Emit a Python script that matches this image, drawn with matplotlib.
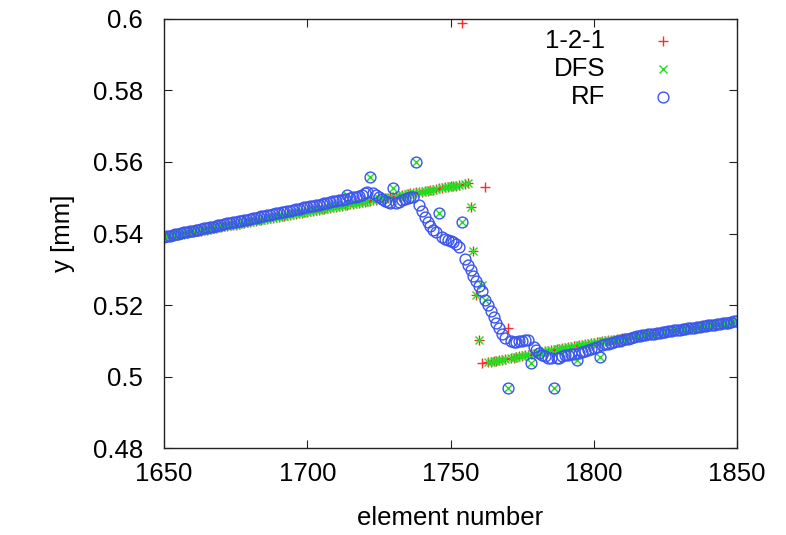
import numpy as np
import matplotlib
matplotlib.use("Agg")
import matplotlib.pyplot as plt
from matplotlib.ticker import FormatStrFormatter

plt.rcParams['font.family'] = ['Liberation Sans', 'DejaVu Sans']

# element numbers 1650 .. 1850
elements = np.arange(1650, 1851)

# 1-2-1 values
y_121 = [
    0.5390, 0.5391, 0.5393, 0.5394, 0.5396, 0.5397, 0.5398, 0.5400, 0.5401, 0.5403,  # 1650
    0.5404, 0.5406, 0.5407, 0.5408, 0.5410, 0.5411, 0.5413, 0.5414, 0.5415, 0.5417,  # 1660
    0.5418, 0.5420, 0.5421, 0.5423, 0.5424, 0.5425, 0.5427, 0.5428, 0.5430, 0.5431,  # 1670
    0.5432, 0.5434, 0.5435, 0.5437, 0.5438, 0.5440, 0.5441, 0.5442, 0.5444, 0.5445,  # 1680
    0.5447, 0.5448, 0.5449, 0.5451, 0.5452, 0.5454, 0.5455, 0.5457, 0.5458, 0.5459,  # 1690
    0.5461, 0.5462, 0.5464, 0.5465, 0.5466, 0.5468, 0.5469, 0.5471, 0.5472, 0.5473,  # 1700
    0.5475, 0.5476, 0.5478, 0.5479, 0.5481, 0.5482, 0.5483, 0.5485, 0.5486, 0.5488,  # 1710
    0.5489, 0.5490, 0.5492, 0.5493, 0.5495, 0.5496, 0.5498, 0.5499, 0.5500, 0.5502,  # 1720
    0.5503, 0.5505, 0.5506, 0.5507, 0.5509, 0.5510, 0.5512, 0.5513, 0.5515, 0.5516,  # 1730
    0.5517, 0.5519, 0.5520, 0.5522, 0.5523, 0.5524, 0.5526, 0.5527, 0.5529, 0.5530,  # 1740
    0.5532, 0.5533, 0.5534, 0.5536, 0.5990, 0.5539, 0.5540, 0.5475, 0.5351, 0.5228,  # 1750
    0.5102, 0.5037, 0.5529, 0.5040, 0.5041, 0.5043, 0.5044, 0.5046, 0.5047, 0.5049,  # 1760
    0.5135, 0.5052, 0.5053, 0.5055, 0.5056, 0.5058, 0.5059, 0.5061, 0.5062, 0.5064,  # 1770
    0.5065, 0.5067, 0.5068, 0.5070, 0.5071, 0.5073, 0.5074, 0.5076, 0.5077, 0.5079,  # 1780
    0.5080, 0.5082, 0.5083, 0.5085, 0.5086, 0.5088, 0.5089, 0.5091, 0.5092, 0.5094,  # 1790
    0.5095, 0.5096, 0.5097, 0.5099, 0.5100, 0.5101, 0.5102, 0.5103, 0.5105, 0.5106,  # 1800
    0.5107, 0.5108, 0.5109, 0.5111, 0.5112, 0.5113, 0.5114, 0.5115, 0.5117, 0.5118,  # 1810
    0.5119, 0.5120, 0.5121, 0.5123, 0.5124, 0.5125, 0.5126, 0.5127, 0.5129, 0.5130,  # 1820
    0.5131, 0.5132, 0.5133, 0.5135, 0.5136, 0.5137, 0.5138, 0.5139, 0.5141, 0.5142,  # 1830
    0.5143, 0.5144, 0.5145, 0.5147, 0.5148, 0.5149, 0.5150, 0.5151, 0.5153, 0.5154,  # 1840
    0.5155,
]

# DFS values
y_dfs = [
    0.5390, 0.5391, 0.5393, 0.5394, 0.5396, 0.5397, 0.5398, 0.5400, 0.5401, 0.5403,  # 1650
    0.5404, 0.5406, 0.5407, 0.5408, 0.5410, 0.5411, 0.5413, 0.5414, 0.5415, 0.5417,  # 1660
    0.5418, 0.5420, 0.5421, 0.5423, 0.5424, 0.5425, 0.5427, 0.5428, 0.5430, 0.5431,  # 1670
    0.5432, 0.5434, 0.5435, 0.5437, 0.5438, 0.5440, 0.5441, 0.5442, 0.5444, 0.5445,  # 1680
    0.5447, 0.5448, 0.5449, 0.5451, 0.5452, 0.5454, 0.5455, 0.5457, 0.5458, 0.5459,  # 1690
    0.5461, 0.5462, 0.5464, 0.5465, 0.5466, 0.5468, 0.5469, 0.5471, 0.5472, 0.5473,  # 1700
    0.5475, 0.5476, 0.5478, 0.5479, 0.5508, 0.5482, 0.5483, 0.5485, 0.5486, 0.5488,  # 1710
    0.5489, 0.5490, 0.5559, 0.5493, 0.5495, 0.5496, 0.5498, 0.5499, 0.5500, 0.5502,  # 1720
    0.5528, 0.5505, 0.5506, 0.5507, 0.5509, 0.5510, 0.5512, 0.5513, 0.5601, 0.5516,  # 1730
    0.5517, 0.5519, 0.5520, 0.5522, 0.5523, 0.5524, 0.5458, 0.5527, 0.5529, 0.5530,  # 1740
    0.5532, 0.5533, 0.5534, 0.5536, 0.5433, 0.5539, 0.5540, 0.5475, 0.5351, 0.5228,  # 1750
    0.5102, 0.5256, 0.5214, 0.5040, 0.5041, 0.5043, 0.5044, 0.5046, 0.5047, 0.5049,  # 1760
    0.4967, 0.5052, 0.5053, 0.5055, 0.5056, 0.5058, 0.5059, 0.5061, 0.5037, 0.5064,  # 1770
    0.5065, 0.5067, 0.5068, 0.5070, 0.5071, 0.5073, 0.4967, 0.5076, 0.5077, 0.5079,  # 1780
    0.5080, 0.5082, 0.5083, 0.5085, 0.5046, 0.5088, 0.5089, 0.5091, 0.5092, 0.5094,  # 1790
    0.5095, 0.5096, 0.5055, 0.5099, 0.5100, 0.5101, 0.5102, 0.5103, 0.5105, 0.5106,  # 1800
    0.5107, 0.5108, 0.5109, 0.5111, 0.5112, 0.5113, 0.5114, 0.5115, 0.5117, 0.5118,  # 1810
    0.5119, 0.5120, 0.5121, 0.5123, 0.5124, 0.5125, 0.5126, 0.5127, 0.5129, 0.5130,  # 1820
    0.5131, 0.5132, 0.5133, 0.5135, 0.5136, 0.5137, 0.5138, 0.5139, 0.5141, 0.5142,  # 1830
    0.5143, 0.5144, 0.5145, 0.5147, 0.5148, 0.5149, 0.5150, 0.5151, 0.5153, 0.5154,  # 1840
    0.5155,
]

# RF values
y_rf = [
    0.5391, 0.5393, 0.5394, 0.5396, 0.5398, 0.5399, 0.5401, 0.5403, 0.5404, 0.5406,  # 1650
    0.5408, 0.5409, 0.5411, 0.5413, 0.5414, 0.5416, 0.5418, 0.5419, 0.5421, 0.5423,  # 1660
    0.5424, 0.5426, 0.5428, 0.5429, 0.5431, 0.5433, 0.5434, 0.5436, 0.5438, 0.5439,  # 1670
    0.5441, 0.5443, 0.5444, 0.5446, 0.5448, 0.5449, 0.5451, 0.5453, 0.5454, 0.5456,  # 1680
    0.5458, 0.5459, 0.5461, 0.5463, 0.5464, 0.5466, 0.5468, 0.5469, 0.5471, 0.5473,  # 1690
    0.5474, 0.5476, 0.5478, 0.5479, 0.5481, 0.5483, 0.5484, 0.5486, 0.5488, 0.5490,  # 1700
    0.5491, 0.5493, 0.5495, 0.5496, 0.5508, 0.5500, 0.5502, 0.5503, 0.5506, 0.5509,  # 1710
    0.5512, 0.5515, 0.5559, 0.5512, 0.5508, 0.5502, 0.5496, 0.5491, 0.5487, 0.5484,  # 1720
    0.5528, 0.5484, 0.5488, 0.5493, 0.5497, 0.5500, 0.5502, 0.5503, 0.5601, 0.5480,  # 1730
    0.5462, 0.5447, 0.5433, 0.5420, 0.5410, 0.5403, 0.5458, 0.5390, 0.5385, 0.5381,  # 1740
    0.5378, 0.5376, 0.5371, 0.5362, 0.5433, 0.5330, 0.5313, 0.5297, 0.5282, 0.5267,  # 1750
    0.5252, 0.5240, 0.5214, 0.5200, 0.5184, 0.5167, 0.5150, 0.5135, 0.5120, 0.5108,  # 1760
    0.4967, 0.5099, 0.5097, 0.5097, 0.5098, 0.5100, 0.5102, 0.5101, 0.5037, 0.5082,  # 1770
    0.5074, 0.5066, 0.5060, 0.5056, 0.5053, 0.5051, 0.4967, 0.5051, 0.5053, 0.5056,  # 1780
    0.5059, 0.5061, 0.5063, 0.5064, 0.5046, 0.5066, 0.5068, 0.5070, 0.5073, 0.5077,  # 1790
    0.5080, 0.5083, 0.5055, 0.5088, 0.5090, 0.5092, 0.5094, 0.5096, 0.5098, 0.5100,  # 1800
    0.5102, 0.5104, 0.5106, 0.5108, 0.5110, 0.5112, 0.5114, 0.5115, 0.5117, 0.5118,  # 1810
    0.5119, 0.5120, 0.5121, 0.5123, 0.5124, 0.5125, 0.5126, 0.5127, 0.5129, 0.5130,  # 1820
    0.5131, 0.5132, 0.5133, 0.5135, 0.5136, 0.5137, 0.5138, 0.5139, 0.5141, 0.5142,  # 1830
    0.5143, 0.5144, 0.5145, 0.5147, 0.5148, 0.5149, 0.5150, 0.5151, 0.5153, 0.5154,  # 1840
    0.5155,
]

series_names = ['1-2-1', 'DFS', 'RF']
x_ticks = [1650, 1700, 1750, 1800, 1850]
y_ticks = [0.48, 0.50, 0.52, 0.54, 0.56, 0.58, 0.60]

red = '#ff2a2a'
green = '#1ee01e'
blue = '#3a55f0'
fs = 18.5

fig = plt.figure(figsize=(7.86, 5.35), dpi=100)
ax = fig.add_axes([0.2087, 0.1626, 0.729, 0.8019])

sty_121 = dict(marker='+', ms=7.5, mew=1.0, color=red)
sty_dfs = dict(marker='x', ms=6.3, mew=1.0, color=green)
sty_rf = dict(marker='o', ms=7.8, mew=1.0, mfc='none', color=blue)

ax.plot(elements, y_121, ls='none', **sty_121)
ax.plot(elements, y_dfs, ls='none', **sty_dfs)
ax.plot(elements, y_rf, ls='none', **sty_rf)

ax.set_xlim(1650, 1850)
ax.set_ylim(0.48, 0.6)
ax.set_xticks(x_ticks)
ax.set_yticks(y_ticks)
ax.yaxis.set_major_formatter(FormatStrFormatter('%g'))
ax.tick_params(direction='in', length=6, width=0.8, top=True, right=True,
               labelsize=fs, color='#222222')
ax.tick_params(axis='x', pad=10)
ax.tick_params(axis='y', pad=15)
for s in ax.spines.values():
    s.set_linewidth(1.0)
    s.set_color('#222222')

ax.set_xlabel('element number', fontsize=fs)
ax.set_ylabel('y [mm]', fontsize=fs)
ax.xaxis.set_label_coords(0.5, -0.135)
ax.yaxis.set_label_coords(-0.155, 0.5)

# gnuplot style key: right aligned text, sample to the right
for i, (name, st) in enumerate(zip(series_names, [sty_121, sty_dfs, sty_rf])):
    ky = 0.949 - i * 0.0655
    ax.text(0.770, ky, name, transform=ax.transAxes, ha='right', va='center',
            fontsize=fs)
    ax.plot([0.871], [ky], ls='none', transform=ax.transAxes, clip_on=False, **st)

fig.savefig('out.png', dpi=100)
